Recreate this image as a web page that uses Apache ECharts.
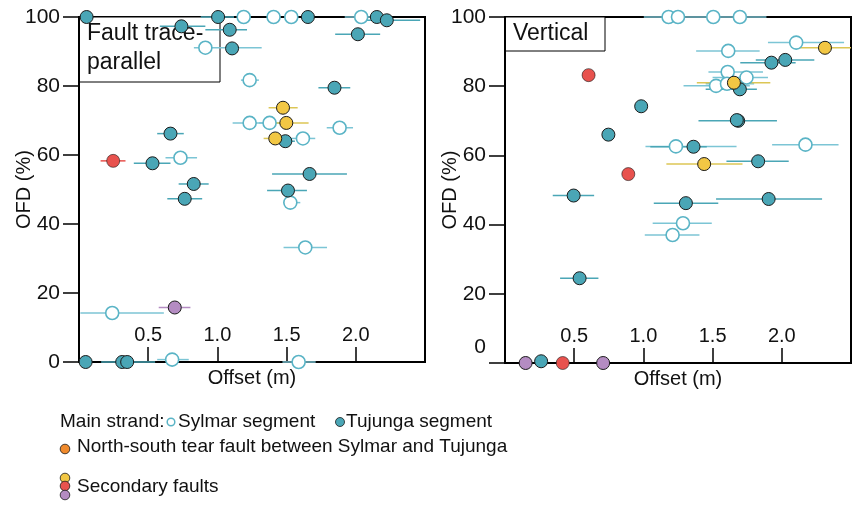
<!DOCTYPE html>
<html lang="en">
<head>
<meta charset="UTF-8">
<title>OFD vs Offset</title>
<script src="https://cdn.jsdelivr.net/npm/echarts@6/dist/echarts.min.js"></script>
<style>
  html, body { margin: 0; padding: 0; background: #fff; }
  #chart { width: 852px; height: 505px; }
</style>
</head>
<body>
<div id="chart"></div>
<script>
// each row: [offset (m), OFD (%), error low, error high]
// --- Fault trace-parallel panel ---
var parSylmar = [
  [1.19, 100, null, null], [1.406, 100, null, null], [1.534, 100, null, null],
  [2.039, 100, 1.92, 2.15], [0.913, 91.1, 0.83, 1.32], [1.233, 81.7, 1.17, 1.30],
  [1.233, 69.3, 1.11, 1.36], [1.377, 69.3, 1.30, 1.45], [1.883, 67.9, 1.79, 1.98],
  [1.618, 64.8, 1.527, 1.707], [0.733, 59.2, 0.625, 0.853], [1.527, 46.2, 1.478, 1.599],
  [1.635, 33.2, 1.478, 1.792], [0.24, 14.2, 0.01, 0.613], [0.673, 0.7, 0.565, 0.793],
  [1.587, 0, 1.47, 1.71]
];
var parTujunga = [
  [0.055, 100, null, null], [1.005, 100, 0.88, 1.12], [1.654, 100, null, null],
  [2.152, 100, null, null], [2.224, 99.05, 2.05, 2.465], [0.74, 97.3, 0.584, 0.913],
  [1.089, 96.3, 0.913, 1.214], [1.106, 90.9, null, null], [2.015, 95.0, 1.851, 2.176],
  [1.846, 79.5, 1.73, 1.96], [0.661, 66.2, 0.565, 0.757], [1.491, 64.0, 1.40, 1.56],
  [0.531, 57.6, 0.396, 0.661], [1.666, 54.5, 1.395, 1.936], [0.829, 51.6, 0.72, 0.937],
  [1.51, 49.7, 1.359, 1.647], [0.764, 47.3, 0.638, 0.89], [0.048, 0, null, null],
  [0.312, 0, 0.16, 0.55], [0.348, 0, null, null]
];
var parYellow = [[1.474, 73.7, 1.37, 1.58], [1.498, 69.3, 1.334, 1.659], [1.418, 64.8, 1.334, 1.527]];
var parRed = [[0.247, 58.3, 0.156, 0.336]];
var parPurple = [[0.692, 15.8, 0.576, 0.805]];

// --- Vertical panel ---
var verSylmar = [
  [1.182, 100, 1.003, 1.889], [1.25, 100, null, null], [1.505, 100, null, null],
  [1.697, 100, null, null], [2.104, 92.6, 1.90, 2.45], [1.613, 90.2, 1.381, 1.84],
  [1.609, 84.1, 1.47, 1.864], [1.745, 82.5, 1.50, 1.90], [1.525, 80.1, 1.29, 1.769],
  [1.604, 80.7, 1.45, 1.80], [1.235, 62.6, 1.015, 1.673], [2.171, 63.1, 1.93, 2.41],
  [1.286, 40.4, 1.067, 1.494], [1.211, 37.0, 1.01, 1.405]
];
var verTujunga = [
  [1.925, 86.8, 1.70, 2.10], [2.025, 87.6, 1.812, 2.235], [1.697, 79.1, 1.45, 1.82],
  [0.984, 74.2, null, null], [1.685, 70.0, 1.398, 1.965], [1.675, 70.2, null, null],
  [0.747, 66.0, null, null], [1.362, 62.5, 1.05, 1.458], [1.829, 58.3, 1.6, 2.05],
  [0.496, 48.4, 0.345, 0.644], [1.307, 46.2, 1.075, 1.541], [1.905, 47.4, 1.525, 2.291],
  [0.539, 24.5, 0.398, 0.675], [0.261, 0.5, null, null]
];
var verYellow = [[2.312, 91.1, 2.08, 2.5], [1.654, 81.0, 1.386, 1.917], [1.439, 57.5, 1.166, 1.716]];
var verRed = [[0.604, 83.2, null, null], [0.891, 54.6, null, null], [0.417, 0, null, null]];
var verPurple = [[0.149, 0, null, null], [0.709, 0, null, null]];

var xTicks = [0.5, 1.0, 1.5, 2.0];

var FONT = '"Liberation Sans", Arial, sans-serif';
var C_HOLLOW = '#5ab4c6', C_TEAL = '#4aa6b6', C_YELLOW = '#f2c744',
    C_RED = '#e8524e', C_PURPLE = '#b48cc2', C_ORANGE = '#f08a2c';

function errBars(rows, idx, color) {
  return {
    type: 'custom', xAxisIndex: idx, yAxisIndex: idx, z: 2, silent: true,
    data: rows.filter(function (r) { return r[2] != null; }),
    encode: { x: [0, 2, 3], y: 1 },
    renderItem: function (params, api) {
      var y = api.value(1);
      var a = api.coord([api.value(2), y]);
      var b = api.coord([api.value(3), y]);
      return { type: 'line', shape: { x1: a[0], y1: a[1], x2: b[0], y2: b[1] },
               style: { stroke: color, lineWidth: 1.5 } };
    }
  };
}
function points(rows, idx, fill, border, bw) {
  return {
    type: 'scatter', xAxisIndex: idx, yAxisIndex: idx, z: 5, symbolSize: 13,
    data: rows.map(function (r) { return [r[0], r[1]]; }),
    itemStyle: { color: fill, borderColor: border, borderWidth: bw, opacity: 1 }
  };
}

function xAxis(idx) {
  return {
    type: 'value', gridIndex: idx, min: 0, max: 2.5, interval: 0.5,
    name: 'Offset (m)', nameLocation: 'middle', nameGap: 6, nameMoveOverlap: false,
    nameTextStyle: { fontFamily: FONT, fontSize: 20, color: '#111', verticalAlign: 'top' },
    axisLine: { lineStyle: { color: '#000', width: 2 } },
    axisTick: { inside: true, length: 15, customValues: xTicks, lineStyle: { color: '#000', width: 1.5 } },
    axisLabel: { inside: true, margin: 17, customValues: xTicks, fontFamily: FONT, fontSize: 20, color: '#111',
                 formatter: function (v) { return v.toFixed(1); } },
    splitLine: { show: false }
  };
}
function yAxis(idx, shiftZero) {
  return {
    type: 'value', gridIndex: idx, min: 0, max: 100, interval: 20,
    name: 'OFD (%)', nameLocation: 'middle', nameGap: 45, nameMoveOverlap: false,
    nameTextStyle: { fontFamily: FONT, fontSize: 20, color: '#111' },
    axisLine: { lineStyle: { color: '#000', width: 2 } },
    axisTick: { length: 16, lineStyle: { color: '#000', width: 1.5 } },
    axisLabel: {
      margin: 19, fontFamily: FONT, fontSize: 21, color: '#111',
      formatter: function (v) { return (shiftZero && v === 0) ? '{z|0}' : String(v); },
      rich: { z: { fontFamily: FONT, fontSize: 21, color: '#111', padding: [0, 0, 32, 0] } }
    },
    splitLine: { show: false }
  };
}

function panelSeries(idx, syl, tuj, yel, red, pur) {
  return [
    errBars(syl, idx, '#7cc5d5'), errBars(tuj, idx, C_TEAL), errBars(yel, idx, '#dcc655'),
    errBars(red, idx, C_RED), errBars(pur, idx, C_PURPLE),
    points(syl, idx, '#ffffff', C_HOLLOW, 1.6), points(tuj, idx, C_TEAL, '#1a1a1a', 1),
    points(yel, idx, C_YELLOW, '#1a1a1a', 1), points(red, idx, C_RED, '#1a1a1a', 0.6),
    points(pur, idx, C_PURPLE, '#1a1a1a', 1)
  ];
}

function label(x, y, s, size) {
  return { type: 'text', x: x, y: y, z: 1,
           style: { text: s, fontFamily: FONT, fontSize: size, fill: '#111', verticalAlign: 'middle' } };
}
function dot(cx, cy, r, fill, stroke, lw) {
  return { type: 'circle', shape: { cx: cx, cy: cy, r: r }, style: { fill: fill, stroke: stroke, lineWidth: lw } };
}

var chart = echarts.init(document.getElementById('chart'));
chart.setOption({
  animation: false,
  grid: [
    { left: 79, top: 17, width: 346, height: 345, show: true, borderColor: '#000', borderWidth: 2 },
    { left: 505, top: 17, width: 346, height: 346, show: true, borderColor: '#000', borderWidth: 2 }
  ],
  xAxis: [xAxis(0), xAxis(1)],
  yAxis: [yAxis(0, false), yAxis(1, true)],
  series: panelSeries(0, parSylmar, parTujunga, parYellow, parRed, parPurple)
    .concat(panelSeries(1, verSylmar, verTujunga, verYellow, verRed, verPurple)),
  graphic: [
    { type: 'rect', shape: { x: 79, y: 17, width: 141, height: 65 }, style: { fill: '#fff', stroke: '#000', lineWidth: 1 }, z: 0 },
    label(87, 34, 'Fault trace-', 23),
    label(87, 63, 'parallel', 23),
    { type: 'rect', shape: { x: 505, y: 17, width: 100, height: 34 }, style: { fill: '#fff', stroke: '#000', lineWidth: 1 }, z: 0 },
    label(513, 34, 'Vertical', 23),

    // legend
    label(60, 422, 'Main strand:', 19),
    dot(171, 422, 3.8, '#fff', C_HOLLOW, 1.5),
    label(178, 422, 'Sylmar segment', 19),
    dot(340, 422, 4.5, C_TEAL, '#1a1a1a', 0.8),
    label(346, 422, 'Tujunga segment', 19),
    dot(65, 449, 4.8, C_ORANGE, '#1a1a1a', 0.8),
    label(77, 447, 'North-south tear fault between Sylmar and Tujunga', 19),
    dot(65, 478, 4.8, C_YELLOW, '#1a1a1a', 0.8),
    dot(65, 486, 4.8, C_RED, '#1a1a1a', 0.8),
    dot(65, 495, 4.8, C_PURPLE, '#1a1a1a', 0.8),
    label(77, 487, 'Secondary faults', 19)
  ]
});
</script>
</body>
</html>
